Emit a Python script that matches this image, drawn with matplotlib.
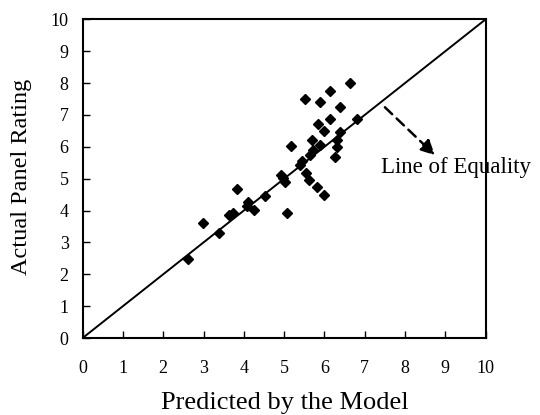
import matplotlib
matplotlib.use("Agg")
import matplotlib.pyplot as plt

# Model predictions vs. panel ratings
predicted = [2.61, 2.98, 3.39, 3.63, 3.72, 3.84, 4.08, 4.11, 4.25, 4.52,
             4.92, 4.97, 5.02, 5.06, 5.18, 5.39, 5.45, 5.54, 5.52, 5.62,
             5.64, 5.68, 5.72, 5.81, 5.85, 5.89, 5.90, 5.99, 5.99, 6.14,
             6.14, 6.26, 6.30, 6.30, 6.38, 6.38, 6.63, 6.81]
actual = [2.47, 3.60, 3.28, 3.85, 3.92, 4.66, 4.13, 4.26, 4.02, 4.46,
          5.10, 5.02, 4.90, 3.91, 6.03, 5.42, 5.55, 5.18, 7.49, 4.95,
          5.74, 6.22, 5.90, 4.74, 6.73, 6.07, 7.39, 6.49, 4.49, 7.74,
          6.87, 5.68, 5.98, 6.22, 7.26, 6.47, 7.99, 6.87]
ticks = list(range(0, 11))
equality = [0, 10]

plt.rcParams['font.family'] = ['Liberation Serif', 'DejaVu Serif']

fig = plt.figure(figsize=(5.4, 4.15), dpi=100)
ax = fig.add_axes([0.153, 0.1855, 0.7464, 0.768])

ax.plot(equality, equality, color='black', lw=1.4, zorder=2)
ax.plot(predicted, actual, linestyle='none', marker='D', ms=4.8,
        color='black', zorder=3)

ax.set_xlim(0, 10)
ax.set_ylim(0, 10)
ax.set_xticks(ticks)
ax.set_yticks(ticks)
ax.tick_params(axis='x', direction='in', length=5, width=1, pad=16,
               labelsize=13)
ax.tick_params(axis='y', direction='in', length=5, width=1, pad=10,
               labelsize=13)
for sp in ax.spines.values():
    sp.set_linewidth(1.5)

ax.annotate('', xy=(8.74, 5.74), xytext=(7.50, 7.24),
            arrowprops=dict(arrowstyle='-|>', linestyle=(0, (4, 2.5)),
                            lw=1.8, color='black', mutation_scale=22,
                            shrinkA=0, shrinkB=0),
            annotation_clip=False)
ax.text(7.40, 5.17, 'Line of Equality', fontsize=16.5, ha='left',
        va='baseline', clip_on=False)

fig.text(285 / 540, 1 - 403 / 415, 'Predicted by the Model', fontsize=19,
         ha='center', va='center')
fig.text(22 / 540, 1 - 177 / 415, 'Actual Panel Rating', fontsize=17.5,
         ha='center', va='center', rotation=90)

fig.savefig('out.png', dpi=100)
